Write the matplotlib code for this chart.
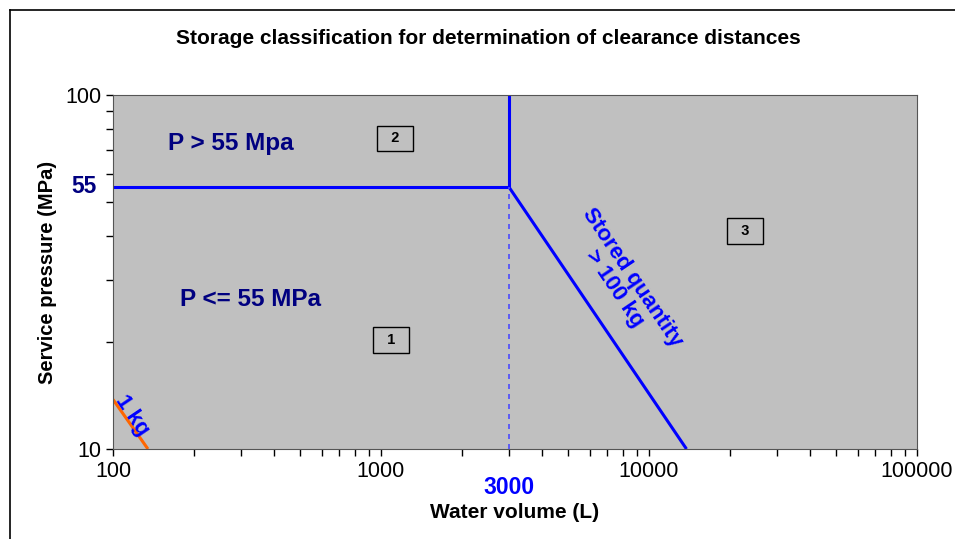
import numpy as np
import matplotlib.pyplot as plt
from matplotlib.ticker import LogLocator, NullFormatter, FixedLocator, FixedFormatter

plt.rcParams['font.family'] = ['Liberation Sans', 'DejaVu Sans']

# boundary lines (volume L, pressure MPa)
p_limit = 55
v_limit = 3000
pressure_line_x = [100, v_limit]
pressure_line_y = [p_limit, p_limit]
volume_line_x = [v_limit, v_limit]
volume_line_y = [p_limit, 100]
dashed_x = [v_limit, v_limit]
dashed_y = [10, p_limit]
kg100_x = [v_limit, 13800]
kg100_y = [p_limit, 10]
kg1_x = [100, 135]
kg1_y = [13.8, 10]

# class boxes
classes = ['1', '2', '3']
class_x = [1090, 1130, 22800]
class_y = [20.3, 75.4, 41.2]

fig = plt.figure(figsize=(9.55, 5.39), dpi=100)
ax = fig.add_axes([113/955, 90/539, 804/955, 354/539])
ax.set_facecolor('#C0C0C0')
ax.set_xscale('log')
ax.set_yscale('log')
ax.set_xlim(100, 100000)
ax.set_ylim(10, 100)

ax.plot(pressure_line_x, pressure_line_y, color='#0000FF', lw=2.2, solid_capstyle='butt')
ax.plot(volume_line_x, volume_line_y, color='#0000FF', lw=2.2, solid_capstyle='butt')
ax.plot(kg100_x, kg100_y, color='#0000FF', lw=2.2, solid_capstyle='butt')
ax.plot(dashed_x, dashed_y, color='#4A4AFF', lw=1.2, ls=(0, (3, 3)))
ax.plot(kg1_x, kg1_y, color='#FF6600', lw=2.2, solid_capstyle='butt')

for lab, x, y in zip(classes, class_x, class_y):
    ax.text(x, y, '  ' + lab + '  ', ha='center', va='center', fontsize=10.5,
            fontweight='bold',
            bbox=dict(boxstyle='square,pad=0.4', fc='#C0C0C0', ec='black', lw=1.0))

ax.text(160, 73, 'P > 55 Mpa', color='#000080', fontsize=17.5, fontweight='bold',
        ha='left', va='center')
ax.text(178, 26.4, 'P <= 55 MPa', color='#000080', fontsize=17.5, fontweight='bold',
        ha='left', va='center')
ax.text(8000, 29.4, 'Stored quantity\n> 100 kg', color='#0000FF', fontsize=16,
        fontweight='bold', ha='center', va='center', rotation=-56, linespacing=1.0,
        rotation_mode='anchor')
ax.text(118, 12.4, '1 kg', color='#0000FF', fontsize=16, fontweight='bold',
        ha='center', va='center', rotation=-56, rotation_mode='anchor')

ax.xaxis.set_major_locator(FixedLocator([100, 1000, 10000, 100000]))
ax.xaxis.set_major_formatter(FixedFormatter(['100', '1000', '10000', '100000']))
ax.xaxis.set_minor_locator(LogLocator(base=10, subs=np.arange(2, 10)))
ax.xaxis.set_minor_formatter(NullFormatter())
ax.yaxis.set_major_locator(FixedLocator([10, 100]))
ax.yaxis.set_major_formatter(FixedFormatter(['10', '100']))
ax.yaxis.set_minor_locator(LogLocator(base=10, subs=np.arange(2, 10)))
ax.yaxis.set_minor_formatter(NullFormatter())
ax.tick_params(which='both', direction='out', length=5, width=1, colors='black', labelsize=15.5)
for s in ax.spines.values():
    s.set_color('#555555')

ax.text(v_limit, -0.11, '3000', transform=ax.get_xaxis_transform(), color='#0000FF',
        fontsize=16.5, fontweight='bold', ha='center', va='center')
ax.text(-0.02, p_limit, '55', transform=ax.get_yaxis_transform(), color='#000080',
        fontsize=16.5, fontweight='bold', ha='right', va='center')

ax.set_xlabel('Water volume (L)', fontsize=15, fontweight='bold', labelpad=15)
ax.set_ylabel('Service pressure (MPa)', fontsize=14.5, fontweight='bold', labelpad=6)
fig.text(488/955, 1 - 38/539, 'Storage classification for determination of clearance distances',
         ha='center', va='center', fontsize=15, fontweight='bold')

# outer chart border (left and top edges visible)
fig.add_artist(plt.Line2D([10/955, 10/955], [0, 1 - 10/539], color='black', lw=1.2,
                          transform=fig.transFigure))
fig.add_artist(plt.Line2D([10/955, 1], [1 - 10/539, 1 - 10/539], color='black', lw=1.2,
                          transform=fig.transFigure))

fig.savefig('out.png', dpi=100)
